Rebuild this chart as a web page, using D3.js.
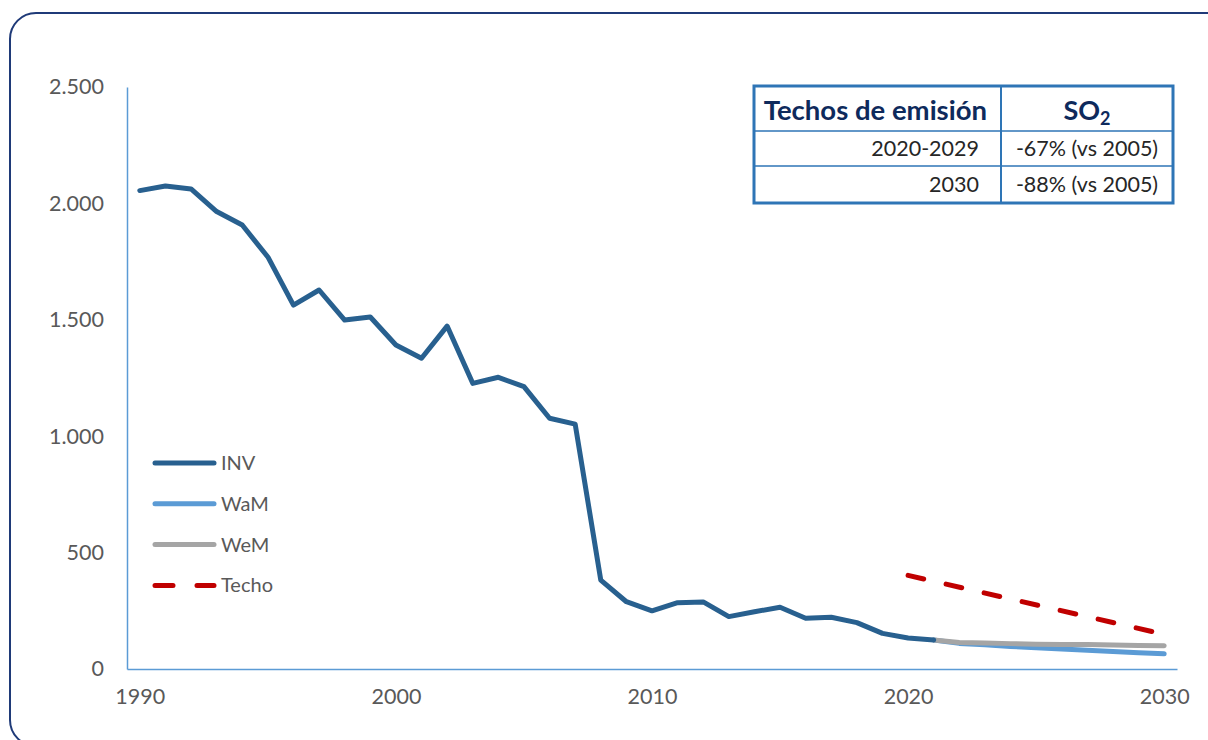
<!DOCTYPE html>
<html>
<head>
<meta charset="utf-8">
<script src="https://cdn.jsdelivr.net/npm/d3@7"></script>
<style>
  body { margin: 0; background: #fff; }
  svg text { font-family: Lato, "Open Sans", sans-serif; }
</style>
</head>
<body>
<div class="chart"></div>
<script>
var svgWidth = 1208;
var svgHeight = 740;

// years on the category axis
var years = d3.range(1990, 2031);
var xTickLabels = [1990, 2000, 2010, 2020, 2030];
var yTicks = [0, 500, 1000, 1500, 2000, 2500];

// emissions (kt SO2)
var invYears = d3.range(1990, 2022);
var invValues = [2055, 2075, 2062, 1965, 1907, 1770, 1563, 1628, 1499, 1512,
  1392, 1335, 1473, 1227, 1253, 1213, 1077, 1052, 382, 289,
  250, 285, 288, 225, 246, 265, 218, 222, 199, 153,
  133, 125];

var projYears = d3.range(2021, 2031);
var wamValues = [125, 110, 104, 97, 91, 86, 81, 75, 70, 65];
var wemValues = [125, 114, 112, 109, 106, 105, 105, 103, 101, 100];

var techoYears = [2020, 2030];
var techoValues = [402, 149];

// table
var tableHeader = ["Techos de emisión", "SO"];
var tableRows = [["2020-2029", "-67% (vs 2005)"], ["2030", "-88% (vs 2005)"]];

var legendNames = ["INV", "WaM", "WeM", "Techo"];
var colors = { INV: "#28608f", WaM: "#5b9bd5", WeM: "#a5a5a5", Techo: "#c00000" };

var margin = { top: 87, right: 31, bottom: 71, left: 127 };
var width = svgWidth - margin.left - margin.right;
var height = svgHeight - margin.top - margin.bottom;

var svg = d3.select(".chart")
  .append("svg")
  .attr("width", svgWidth)
  .attr("height", svgHeight);

// rounded card frame
svg.append("rect")
  .attr("x", 10).attr("y", 13)
  .attr("width", 1230).attr("height", 733)
  .attr("rx", 26)
  .attr("fill", "none")
  .attr("stroke", "#1f3a78")
  .attr("stroke-width", 2);

var chartGroup = svg.append("g")
  .attr("transform", `translate(${margin.left}, ${margin.top})`);

var xScale = d3.scalePoint()
  .domain(years)
  .range([0, width])
  .padding(0.5);

var yScale = d3.scaleLinear()
  .domain([0, 2500])
  .range([height, 0]);

// y axis
var leftAxis = d3.axisLeft(yScale)
  .tickValues(yTicks)
  .tickSize(0)
  .tickPadding(23)
  .tickFormat(d => d3.format(",")(d).replace(/,/g, "."));

var yAxis = chartGroup.append("g").call(leftAxis);
yAxis.select(".domain").attr("stroke", "#5b9bd5").attr("stroke-width", 1.5);
yAxis.selectAll("text")
  .attr("fill", "#595959")
  .style("font-size", "21.5px");

// x axis
var bottomAxis = d3.axisBottom(xScale)
  .tickValues(xTickLabels)
  .tickSize(0)
  .tickPadding(20);

var xAxis = chartGroup.append("g")
  .attr("transform", `translate(0, ${height})`)
  .call(bottomAxis);
xAxis.select(".domain").attr("stroke", "#5b9bd5").attr("stroke-width", 1.5);
xAxis.selectAll("text")
  .attr("fill", "#595959")
  .style("font-size", "21.5px");

var line = d3.line()
  .x(d => xScale(d.year))
  .y(d => yScale(d.value));

function pairs(ys, vs) {
  return ys.map((y, i) => ({ year: y, value: vs[i] }));
}

chartGroup.append("path")
  .datum(pairs(techoYears, techoValues))
  .attr("d", line)
  .attr("fill", "none")
  .attr("stroke", colors.Techo)
  .attr("stroke-width", 5)
  .attr("stroke-linecap", "round")
  .attr("stroke-dasharray", "16,23");

chartGroup.append("path")
  .datum(pairs(projYears, wamValues))
  .attr("d", line)
  .attr("fill", "none")
  .attr("stroke", colors.WaM)
  .attr("stroke-width", 5)
  .attr("stroke-linecap", "round")
  .attr("stroke-linejoin", "round");

chartGroup.append("path")
  .datum(pairs(projYears, wemValues))
  .attr("d", line)
  .attr("fill", "none")
  .attr("stroke", colors.WeM)
  .attr("stroke-width", 5)
  .attr("stroke-linecap", "round")
  .attr("stroke-linejoin", "round");

chartGroup.append("path")
  .datum(pairs(invYears, invValues))
  .attr("d", line)
  .attr("fill", "none")
  .attr("stroke", colors.INV)
  .attr("stroke-width", 5)
  .attr("stroke-linecap", "round")
  .attr("stroke-linejoin", "round");

// legend
var legend = svg.append("g")
  .attr("transform", "translate(155, 463)");

var legendItem = legend.selectAll("g")
  .data(legendNames)
  .enter()
  .append("g")
  .attr("transform", (d, i) => `translate(0, ${i * 40.8})`);

legendItem.append("line")
  .attr("x1", 0).attr("x2", 59)
  .attr("stroke", d => colors[d])
  .attr("stroke-width", 5)
  .attr("stroke-linecap", "round")
  .attr("stroke-dasharray", d => d === "Techo" ? "18,24" : null);

legendItem.append("text")
  .attr("x", 66)
  .attr("dy", "0.35em")
  .attr("fill", "#595959")
  .style("font-size", "20px")
  .text(d => d);

// emission ceilings table
var tbl = svg.append("g").attr("transform", "translate(754, 86)");
var colX = [0, 247, 419];
var rowY = [0, 45, 80, 117];

tbl.append("rect")
  .attr("width", colX[2]).attr("height", rowY[3])
  .attr("fill", "#fff")
  .attr("stroke", "#2e75b6")
  .attr("stroke-width", 3);

tbl.selectAll(".hline")
  .data(rowY.slice(1, 3))
  .enter()
  .append("line")
  .attr("x1", 0).attr("x2", colX[2])
  .attr("y1", d => d).attr("y2", d => d)
  .attr("stroke", "#2e75b6")
  .attr("stroke-width", 1.5);

tbl.append("line")
  .attr("x1", colX[1]).attr("x2", colX[1])
  .attr("y1", 0).attr("y2", rowY[3])
  .attr("stroke", "#2e75b6")
  .attr("stroke-width", 2);

tbl.append("text")
  .attr("x", colX[1] - 14)
  .attr("y", 34)
  .attr("text-anchor", "end")
  .attr("fill", "#0e2a5c")
  .style("font-size", "27.5px")
  .style("font-weight", "bold")
  .text(tableHeader[0]);

var so2 = tbl.append("text")
  .attr("x", (colX[1] + colX[2]) / 2)
  .attr("y", 34)
  .attr("text-anchor", "middle")
  .attr("fill", "#0e2a5c")
  .style("font-size", "27px")
  .style("font-weight", "bold");
so2.append("tspan").text(tableHeader[1]);
so2.append("tspan").attr("dy", 5).style("font-size", "18px").text("2");

tableRows.forEach(function(r, i) {
  var cy = (rowY[i + 1] + rowY[i + 2]) / 2;
  tbl.append("text")
    .attr("x", colX[1] - 22)
    .attr("y", cy)
    .attr("dy", "0.35em")
    .attr("text-anchor", "end")
    .attr("fill", "#262626")
    .style("font-size", "21.5px")
    .text(r[0]);
  tbl.append("text")
    .attr("x", (colX[1] + colX[2]) / 2)
    .attr("y", cy)
    .attr("dy", "0.35em")
    .attr("text-anchor", "middle")
    .attr("fill", "#262626")
    .style("font-size", "21.5px")
    .text(r[1]);
});
</script>
</body>
</html>
